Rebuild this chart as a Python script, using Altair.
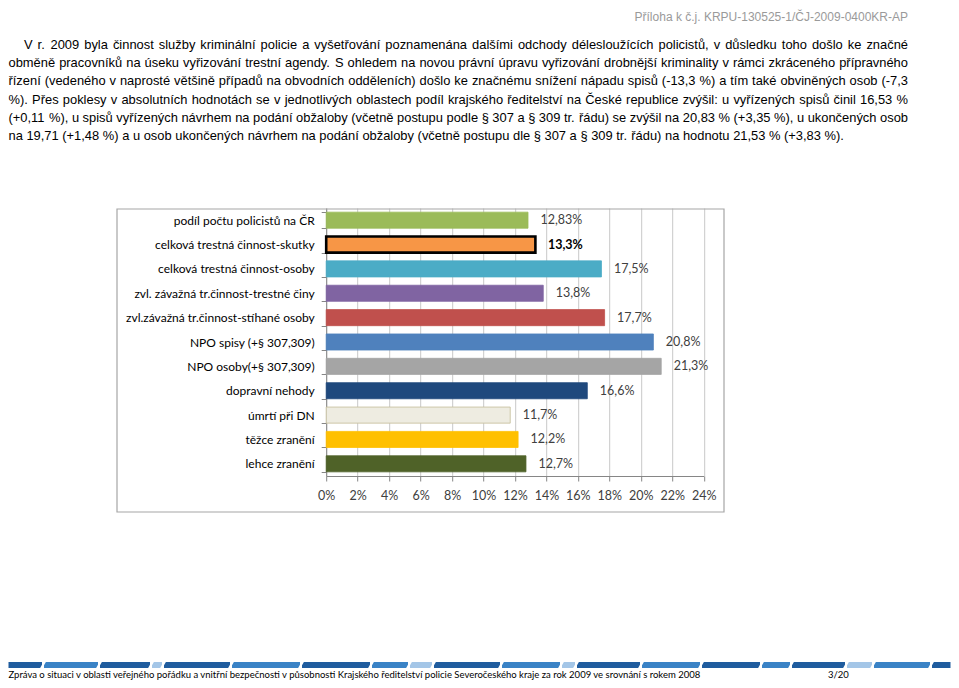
import unicodedata
import altair as alt
import pandas as pd

# ---------------- data ----------------
header_text = "Příloha k č.j. KRPU-130525-1/ČJ-2009-0400KR-AP"

paragraph_lines = [
    "V r. 2009 byla činnost služby kriminální policie a vyšetřování poznamenána dalšími odchody délesloužících policistů, v důsledku toho došlo ke značné",
    "obměně pracovníků na úseku vyřizování trestní agendy. S ohledem na novou právní úpravu vyřizování drobnější kriminality v rámci zkráceného přípravného",
    "řízení (vedeného v naprosté většině případů na obvodních odděleních) došlo ke značnému snížení nápadu spisů (-13,3 %) a tím také obviněných osob (-7,3",
    "%). Přes poklesy v absolutních hodnotách se v jednotlivých oblastech podíl krajského ředitelství na České republice zvýšil: u vyřízených spisů činil 16,53 %",
    "(+0,11 %), u spisů vyřízených návrhem na podání obžaloby (včetně postupu podle § 307 a § 309 tr. řádu) se zvýšil na 20,83 % (+3,35 %), u ukončených osob",
    "na 19,71 (+1,48 %) a u osob ukončených návrhem na podání obžaloby (včetně postupu dle § 307 a § 309 tr. řádu) na hodnotu 21,53 % (+3,83 %).",
]

categories = [
    "podíl počtu policistů na ČR",
    "celková trestná činnost-skutky",
    "celková trestná činnost-osoby",
    "zvl. závažná tr.činnost-trestné činy",
    "zvl.závažná tr.činnost-stíhané osoby",
    "NPO spisy (+§ 307,309)",
    "NPO osoby(+§ 307,309)",
    "dopravní nehody",
    "úmrtí při  DN",
    "těžce zranění",
    "lehce zranění",
]
values = [12.83, 13.3, 17.5, 13.8, 17.7, 20.8, 21.3, 16.6, 11.7, 12.2, 12.7]
bar_colors = ["#9BBB59", "#F79646", "#4BACC6", "#8064A2", "#C0504D", "#4F81BD",
              "#A5A5A5", "#1F497D", "#EEECE1", "#FFC000", "#4F6228"]
bar_strokes = ["#9BBB59", "#000000", "#4BACC6", "#8064A2", "#C0504D", "#4F81BD",
               "#A5A5A5", "#1F497D", "#C4BD97", "#FFC000", "#4F6228"]
highlight = "celková trestná činnost-skutky"
x_ticks = list(range(0, 25, 2))

footer_text = ("Zpráva o situaci v oblasti veřejného pořádku a vnitřní bezpečnosti v působnosti "
               "Krajského ředitelství policie Severočeského kraje za rok 2009 ve srovnání s rokem 2008")
page_text = "3/20"

# ---------------- layout (page pixels) ----------------
PAGE_W, PAGE_H = 943, 672          # drawable size that fits the window without overflow
ORIGIN_X, ORIGIN_Y = 326.2, 208.0  # page position of the plot origin
PLOT_W, PLOT_H = 377.5, 268
LEFT_EDGE = 8.5                    # first visible page pixel column


def px(x):
    return x - ORIGIN_X


def py(y):
    return y - ORIGIN_Y


# Arial / Liberation Sans advance widths (per 1000 em)
_W = {' ': 278, '%': 889, '(': 333, ')': 333, '+': 584, ',': 278, '-': 333, '.': 278,
      '/': 278, ':': 278, '§': 556, ';': 278}
for _d in "0123456789":
    _W[_d] = 556
_UP = dict(zip("ABCDEFGHIJKLMNOPQRSTUVWXYZ",
               [667, 667, 722, 722, 667, 611, 778, 722, 278, 500, 667, 556, 833, 722, 778, 667,
                778, 722, 667, 611, 722, 667, 944, 667, 667, 611]))
_LO = dict(zip("abcdefghijklmnopqrstuvwxyz",
               [556, 556, 500, 556, 556, 278, 556, 556, 222, 222, 500, 222, 833, 556, 556, 556,
                556, 333, 500, 278, 556, 500, 722, 500, 500, 500]))
_SP = {'í': 278, 'ď': 615, 'ť': 375}


def char_w(ch):
    if ch in _SP:
        return _SP[ch]
    if ch in _W:
        return _W[ch]
    base = unicodedata.normalize("NFD", ch)[0]
    return _UP.get(base, _LO.get(base, 556))


def text_w(s, size):
    return sum(char_w(c) for c in s) * size / 1000.0


FS = 12.9
line_y = [45, 63.2, 81.4, 99.6, 117.8, 136]
word_rows = []
for i, line in enumerate(paragraph_lines):
    words = line.split(" ")
    left = 24 if i == 0 else LEFT_EDGE
    right = 908
    widths = [text_w(w, FS) for w in words]
    if i < len(paragraph_lines) - 1:
        gap = (right - left - sum(widths)) / (len(words) - 1)
    else:
        gap = text_w(" ", FS)
    x = left
    for w, wd in zip(words, widths):
        word_rows.append({"w": w, "x": px(x), "y": py(line_y[i])})
        x += wd + gap
words_df = pd.DataFrame(word_rows)

one = pd.DataFrame({"k": [0]})

# ---------------- chart ----------------
df = pd.DataFrame({
    "cat": categories,
    "val": values,
    "lab": [f"{v:g}".replace(".", ",") + "%" for v in values],
})

y_scale = alt.Scale(domain=categories, paddingInner=0.34, paddingOuter=0.17)
x_scale = alt.Scale(domain=[0, 24], nice=False, zero=True)

y_enc = alt.Y("cat:N", sort=categories, title=None, scale=y_scale,
              axis=alt.Axis(labelFont="Lato", labelFontSize=12, labelColor="#000000",
                            labelPadding=7, tickSize=5, tickColor="#868686",
                            domainColor="#868686", tickBand="extent", grid=False,
                            labelLimit=300))
x_enc = alt.X("val:Q", title=None, scale=x_scale,
              axis=alt.Axis(values=x_ticks, labelExpr="datum.value + '%'",
                            labelFont="Lato", labelFontSize=12.5, labelColor="#404040",
                            labelPadding=8, tickSize=5, tickColor="#868686",
                            domainColor="#868686", grid=True, gridColor="#C8C8C8",
                            labelFlush=False, labelOverlap=False))

box = alt.Chart(one).mark_rect(fillOpacity=0, stroke="#A6A6A6", strokeWidth=1.2).encode(
    x=alt.value(px(117)), x2=alt.value(px(724)),
    y=alt.value(py(209)), y2=alt.value(py(512)))

bars = alt.Chart(df).mark_bar().encode(
    x=x_enc, y=y_enc,
    color=alt.Color("cat:N", scale=alt.Scale(domain=categories, range=bar_colors), legend=None),
    stroke=alt.Stroke("cat:N", scale=alt.Scale(domain=categories, range=bar_strokes), legend=None),
    strokeWidth=alt.condition(alt.datum.cat == highlight, alt.value(2.6), alt.value(0.8)),
)

lab_x = alt.X("val:Q", scale=x_scale, axis=None)
lab_y = alt.Y("cat:N", sort=categories, scale=y_scale, axis=None)

labels = alt.Chart(df).transform_filter(alt.datum.cat != highlight).mark_text(
    align="left", baseline="middle", dx=12.5, font="Lato", fontSize=12.5, color="#404040"
).encode(x=lab_x, y=lab_y, text="lab:N")

labels_bold = alt.Chart(df).transform_filter(alt.datum.cat == highlight).mark_text(
    align="left", baseline="middle", dx=12.5, font="Lato", fontSize=12.5, fontWeight="bold",
    color="#000000"
).encode(x=lab_x, y=lab_y, text="lab:N")

para = alt.Chart(words_df).mark_text(
    align="left", baseline="middle", font="Liberation Sans", fontSize=FS, color="#000000"
).encode(
    x=alt.X("x:Q", scale=None, axis=None),
    y=alt.Y("y:Q", scale=None, axis=None),
    text="w:N",
)

header = alt.Chart(one).mark_text(
    align="right", baseline="middle", font="Liberation Sans", fontSize=12, color="#9A9A9A",
    text=header_text
).encode(x=alt.value(px(908)), y=alt.value(py(17)))

# footer stripe
stripe_top, stripe_bot = 662, 668
dark, mid, light = "#1F5C9E", "#3A83C6", "#A4C6E7"
stripe_segments = [
    (LEFT_EDGE, 42, dark), (44, 98, mid), (100, 150, dark), (152, 162, light), (164, 230, dark),
    (232, 300, mid), (302, 370, dark), (372, 408, mid), (410, 432, light), (434, 500, dark),
    (502, 560, mid), (562, 575, light), (577, 640, dark), (642, 700, mid), (702, 760, dark),
    (762, 790, mid), (792, 845, dark), (847, 872, light), (874, 930, mid), (932, 950.5, dark),
]
stripe_df = pd.DataFrame([{"x": px(a), "x2": px(b), "c": c} for a, b, c in stripe_segments])
stripe_df["y"] = py(stripe_top)
stripe_df["y2"] = py(stripe_bot)
stripe = alt.Chart(stripe_df).mark_rect().encode(
    x=alt.X("x:Q", scale=None, axis=None), x2="x2:Q",
    y=alt.Y("y:Q", scale=None, axis=None), y2="y2:Q",
    color=alt.Color("c:N", scale=None, legend=None),
)
slant_df = pd.DataFrame([{"x": px(b + 3), "x2": px(b - 1), "y": py(stripe_top - 0.5),
                          "y2": py(stripe_bot + 0.5)} for a, b, c in stripe_segments[:-1]])
slants = alt.Chart(slant_df).mark_rule(color="white", strokeWidth=2).encode(
    x=alt.X("x:Q", scale=None, axis=None), x2="x2:Q",
    y=alt.Y("y:Q", scale=None, axis=None), y2="y2:Q",
)

FOOT_Y = 675
footer = alt.Chart(one).mark_text(
    align="left", baseline="middle", font="Lato", fontSize=9.5, color="#000000",
    text=footer_text
).encode(x=alt.value(px(LEFT_EDGE)), y=alt.value(py(FOOT_Y)))

page_no = alt.Chart(one).mark_text(
    align="left", baseline="middle", font="Lato", fontSize=9.5, color="#000000",
    text=page_text
).encode(x=alt.value(px(828)), y=alt.value(py(FOOT_Y)))

chart = alt.layer(
    box, bars, labels, labels_bold, para, header, stripe, slants, footer, page_no
).resolve_axis(
    x="independent", y="independent"
).properties(
    width=PLOT_W, height=PLOT_H,
    autosize=alt.AutoSizeParams(type="none"),
    padding={"left": ORIGIN_X - 8, "top": ORIGIN_Y - 8,
             "right": PAGE_W - (ORIGIN_X - 8) - PLOT_W,
             "bottom": PAGE_H - (ORIGIN_Y - 8) - PLOT_H},
    background="white",
).configure_view(stroke=None)

chart.save("out.html", embed_options={"renderer": "svg", "actions": False})
